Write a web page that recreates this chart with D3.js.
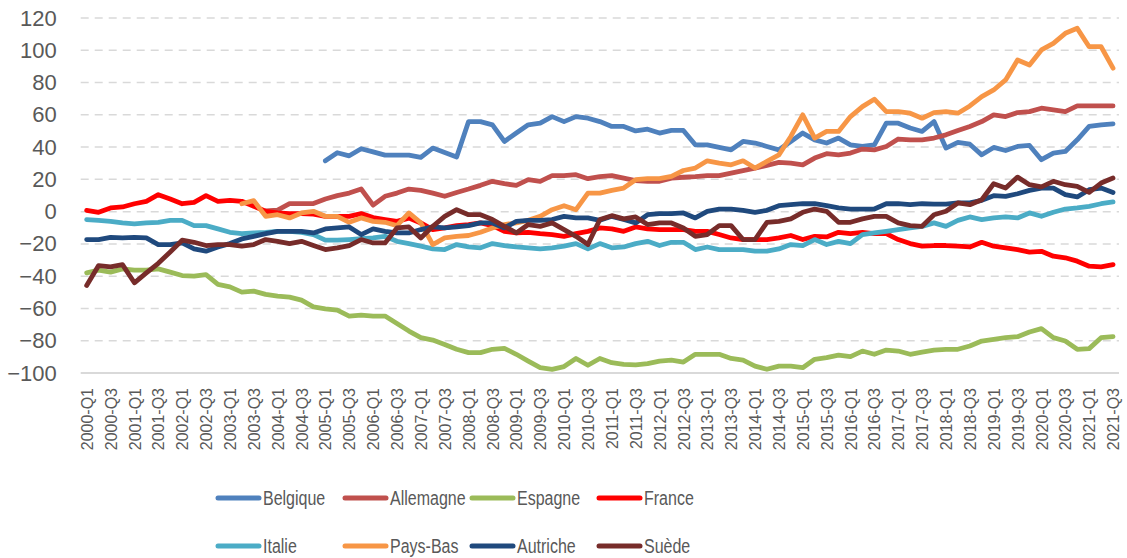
<!DOCTYPE html>
<html><head><meta charset="utf-8">
<script src="https://cdn.jsdelivr.net/npm/d3@7"></script>
<style>
html,body{margin:0;padding:0;background:#fff;}
svg{display:block;}
</style></head>
<body>
<svg id="chart" width="1127" height="558"></svg>
<script>
// ---- data ----
const years = d3.range(2000, 2022);
const quarters = [];
years.forEach(y => ["Q1","Q2","Q3","Q4"].forEach(q => quarters.push(y + "-" + q)));
quarters.splice(87); // 2000-Q1 .. 2021-Q3
const yTicks = [-100,-80,-60,-40,-20,0,20,40,60,80,100,120];
const seriesNames = ["Belgique","Allemagne","Espagne","France","Italie","Pays-Bas","Autriche","Suède"];
const seriesColors = ["#4F81BD","#C0504D","#9BBB59","#FF0000","#4BACC6","#F79646","#1F497D","#772C2A"];

const N = null;
const belgique = [N,N,N,N,N,N,N,N,N,N, N,N,N,N,N,N,N,N,N,N,
 31.5,36.5,34.6,39,37,35,35,35,33.6,39.4,
 36.7,33.9,55.8,55.8,53.8,43.5,48.7,53.8,54.8,58.9,
 55.8,58.9,57.9,55.8,52.8,52.8,50,51.1,48.7,50.3,
 50.3,41.4,41.4,39.8,38.3,43.5,42.5,40.4,38.3,43.5,
 48.7,44.5,42.5,45.6,41.4,40.4,41.4,54.8,54.8,51.8,
 49.7,55.8,39.4,42.9,41.8,35.2,39.8,37.9,40.4,41,
 32.2,36.3,37.3,44.5,52.8,53.8,54.4];
const allemagne = [N,N,N,N,N,N,N,N,N,N, N,N,N,N,N,
 0.5,1,5,5,5,7.8,9.9,11.5,14,4,
 9.5,11.5,14,13.2,11.5,9.5,11.9,14,16.3,18.8,
 17.3,16.3,19.8,18.8,22.3,22.3,22.9,20.4,21.7,22.3,
 20.8,19.2,18.8,18.8,20.8,21.3,21.7,22.3,22.3,23.9,
 25.4,27,28.7,30.5,30,29,33.2,35.9,35.2,36.3,
 38.8,38.3,40.4,45,44.5,44.5,45.6,47.6,50.3,52.8,
 55.8,60,58.9,61.4,62,64.1,63,62,65.5,65.5,65.5,65.5];
const espagne = [-37.9,-36.3,-37.5,-35.5,-36.3,-36.3,-35.5,-37.5,-39.6,-40,
 -39,-45.1,-46.6,-49.9,-49.3,-51.3,-52.4,-53,-54.8,-59,
 -60.2,-61,-64.7,-64.1,-64.7,-64.7,-69.3,-74,-78.1,-79.6,
 -82.3,-85.3,-87.4,-87.4,-85.3,-84.7,-88.4,-92.6,-96.7,-97.7,
 -96,-91,-95.2,-91,-93.6,-94.6,-95,-94.2,-92.6,-92,
 -93.2,-88.4,-88.4,-88.4,-91,-92,-95.7,-97.7,-95.7,-95.7,
 -96.7,-91.5,-90.5,-88.9,-89.9,-86.4,-88.4,-85.8,-86.4,-88.4,
 -87,-85.8,-85.3,-85.3,-83.3,-80.2,-79.2,-78.1,-77.5,-74.6,
 -72.5,-78.1,-80.2,-85.3,-84.9,-78.1,-77.5];
const france = [0.8,-0.4,2.3,2.9,4.9,6.4,10.5,7.8,4.9,5.8,
 9.9,6.4,7,6.4,3.3,0.2,-0.8,-1.2,-1.2,-1.6,
 -2.9,-2.9,-2.9,-1.2,-3.7,-4.9,-6,-4,-7,-11.1,
 -10.1,-8.7,-8,-7,-8.7,-12.2,-13.2,-12.8,-13.6,-14.2,
 -15.3,-13.6,-12.2,-10.1,-10.7,-12.2,-9.5,-10.7,-11.1,-11.1,
 -11.1,-12.2,-12.2,-14.2,-16.3,-17.3,-17.3,-17.3,-16.3,-14.8,
 -17.3,-15.3,-15.7,-12.8,-13.6,-12.8,-13.6,-13.6,-17.3,-19.8,
 -21.4,-21,-21,-21.4,-21.9,-19,-21.4,-22.4,-23.5,-25.1,
 -24.6,-27.6,-28.6,-30.7,-33.8,-34.2,-32.8];
const italie = [-4.9,-5.4,-6,-7,-7.6,-7,-6.6,-5.4,-5.4,-8.7,
 -8.7,-10.7,-12.8,-13.6,-13.2,-12.8,-12.2,-12.2,-12.8,-14.2,
 -17.7,-17.7,-17.3,-16.8,-16.3,-15.3,-18.4,-19.8,-21.4,-23.1,
 -23.5,-20.4,-21.9,-22.4,-19.8,-21,-21.9,-22.4,-23.1,-22.4,
 -21.4,-19.8,-23.1,-19.8,-22.4,-21.9,-19.8,-18.4,-21,-19,
 -19,-23.5,-21.9,-23.5,-23.5,-23.5,-24.5,-24.5,-23.1,-20.4,
 -21,-17.3,-20.4,-18.4,-19.8,-14.2,-13.2,-12.2,-11.1,-10.1,
 -9.1,-7,-9.1,-5.4,-3.3,-4.9,-3.9,-3.3,-3.9,-0.8,
 -2.9,-0.4,1.6,2.3,3.3,4.9,6];
const paysBas = [N,N,N,N,N,N,N,N,N,N, N,N,N,
 4.9,6.8,-2.9,-1.9,-3.9,-0.8,0.2,
 -2.9,-2.9,-6.6,-3.9,-6,-6.6,-8.7,-0.8,-7,-20.4,
 -16.3,-15.3,-14.8,-12.8,-10.1,-8,-7,-5.4,-2.9,1.2,
 3.7,1.2,11.5,11.5,13.2,14.6,19.8,20.4,20.4,21.8,
 25.5,27,31.5,30.1,29,31.5,27,31.1,35.2,46.6,
 60,45.6,49.7,49.7,58.9,65.1,69.7,62,62,61,
 57.9,61.4,62,61,65.5,71.3,75.4,81.6,94,90.9,
 100.2,104.3,110.5,113.6,102.2,102.2,88.9];
const autriche = [-17.3,-17.3,-15.9,-16.3,-15.9,-16.3,-20.4,-20.4,-19.4,-23.1,
 -24.5,-21.9,-19.8,-16.9,-15.3,-13.6,-12.2,-12.2,-12.2,-13.2,
 -10.7,-10.1,-9.5,-14.2,-10.7,-12.2,-13.2,-13.2,-11.1,-9.5,
 -10.1,-9.5,-8.7,-7,-7,-10.1,-6,-5.4,-5.4,-4.9,
 -2.9,-3.9,-3.9,-5.4,-2.9,-4.9,-7,-1.9,-1.2,-1.2,
 -0.8,-3.9,0.2,1.6,1.6,0.8,-0.4,0.8,3.7,4.3,
 4.9,4.9,3.7,2.3,1.6,1.6,1.6,4.9,4.9,4.3,
 4.9,4.7,4.7,5.4,5.4,7,9.9,9.5,11.1,13.2,
 14.6,14.6,10.5,9.1,13.6,14.6,11.9];
const suede = [-45.8,-33.4,-34.2,-32.8,-44.1,-38,-32,-25,-17.7,-19,
 -21,-20.4,-20.4,-21.4,-20.4,-17.3,-18.4,-19.8,-18.4,-21,
 -23.5,-22.4,-21,-17.3,-19.4,-19.4,-10.1,-9.5,-16.3,-9.1,
 -2.9,1.2,-1.9,-1.9,-4.9,-9.1,-13.2,-8,-9.1,-7,
 -11.1,-15.3,-20.4,-4.9,-2.5,-4.5,-3.3,-8,-7,-7,
 -10.1,-15.3,-14.2,-8.7,-8.7,-17.3,-17.3,-6.6,-6,-4.5,
 -0.4,1.6,0.2,-6.6,-6.6,-4.5,-2.9,-2.9,-7,-8.7,
 -9.1,-1.9,0.2,5.4,4.3,7.4,17.3,14.6,21.4,16.7,
 15.3,18.8,16.7,15.7,11.9,17.7,20.8];
const seriesValues = [belgique, allemagne, espagne, france, italie, paysBas, autriche, suede];

// ---- layout ----
(function () {
const svg = d3.select("#chart");
const pLeft = 80.7, pRight = 1119, pTop = 18, pBottom = 373;
const x = d3.scalePoint().domain(quarters).range([pLeft, pRight]).padding(0.5);
const y = d3.scaleLinear().domain([-100, 120]).range([pBottom, pTop]);
const textColor = "#595959";

// grid
svg.append("g").selectAll("line").data(yTicks).join("line")
  .attr("x1", pLeft).attr("x2", pRight)
  .attr("y1", d => y(d)).attr("y2", d => y(d))
  .attr("stroke", "#D9D9D9")
  .attr("stroke-width", d => d === -100 ? 2 : 1.5)
  .attr("stroke-dasharray", d => d === -100 ? null : "8,6");

// y axis labels
const yAxis = d3.axisLeft(y).tickValues(yTicks).tickSize(0).tickPadding(0).tickFormat(d3.format("d"));
const gy = svg.append("g").attr("transform", `translate(${pLeft - 24},0)`).call(yAxis);
gy.select(".domain").remove();
gy.selectAll("text").attr("fill", textColor)
  .style("font-family", "'Liberation Sans', Arial, sans-serif").style("font-size", "22px");

// x axis labels
const xAxis = d3.axisBottom(x).tickValues(quarters.filter((d, i) => i % 2 === 0)).tickSize(0).tickPadding(0);
const gx = svg.append("g").attr("transform", `translate(0,${pBottom + 15})`).call(xAxis);
gx.select(".domain").remove();
gx.selectAll("text")
  .attr("fill", textColor)
  .attr("transform", "rotate(-90)")
  .attr("text-anchor", "end")
  .attr("dy", "0.35em").attr("y", 0).attr("x", 0)
  .style("font-family", "'Liberation Sans', Arial, sans-serif").style("font-size", "16px");

// lines
const line = d3.line()
  .defined(d => d.v !== null)
  .x(d => x(d.q)).y(d => y(d.v));
seriesNames.forEach((name, k) => {
  const pts = quarters.map((q, i) => ({q, v: seriesValues[k][i] === undefined ? null : seriesValues[k][i]}));
  svg.append("path").datum(pts)
    .attr("fill", "none").attr("stroke", seriesColors[k])
    .attr("stroke-width", 4.8).attr("stroke-linejoin", "round").attr("stroke-linecap", "round")
    .attr("d", line);
});

// legend
const legend = svg.append("g");
seriesNames.forEach((name, k) => {
  const col = k % 4, row = Math.floor(k / 4);
  const lx = 218 + col * 127, ly = 498 + row * 48;
  legend.append("line").attr("x1", lx).attr("x2", lx + 41).attr("y1", ly).attr("y2", ly)
    .attr("stroke", seriesColors[k]).attr("stroke-width", 5).attr("stroke-linecap", "round");
  legend.append("text")
    .attr("transform", `translate(${lx + 45},${ly}) scale(0.8,1)`)
    .attr("dy", "0.35em")
    .attr("fill", textColor)
    .style("font-family", "'Liberation Sans', Arial, sans-serif")
    .style("font-size", "20px").text(name);
});
})();
</script>
</body></html>
